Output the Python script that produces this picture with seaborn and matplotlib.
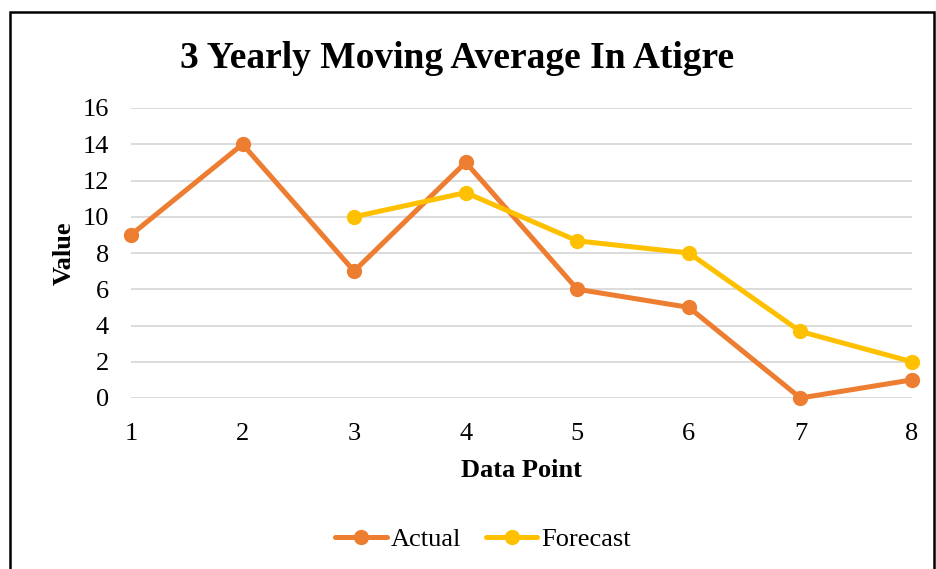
import matplotlib
matplotlib.use("Agg")
import matplotlib.pyplot as plt
import seaborn as sns
import pandas as pd
import numpy as np
from matplotlib.patches import Rectangle

data_points = [1, 2, 3, 4, 5, 6, 7, 8]
actual = [9, 14, 7, 13, 6, 5, 0, 1]
forecast = [np.nan, np.nan, 10, 11.33, 8.67, 8, 3.67, 2]
yticks = [0, 2, 4, 6, 8, 10, 12, 14, 16]

df = pd.DataFrame({"Data Point": data_points, "Actual": actual, "Forecast": forecast})

sns.set_theme(style="white")
plt.rcParams['font.family'] = ['Liberation Serif', 'DejaVu Serif']

fig = plt.figure(figsize=(9.36, 5.69), dpi=100)
ax = fig.add_axes([131/936, 1-398/569, (912-131)/936, (398-108)/569])

sns.lineplot(data=df, x="Data Point", y="Actual", ax=ax, color="#ED7D31", lw=3.6,
             marker="o", markersize=11, markeredgewidth=0, label="Actual", clip_on=False)
sns.lineplot(data=df.dropna(), x="Data Point", y="Forecast", ax=ax, color="#FFC000", lw=3.6,
             marker="o", markersize=11, markeredgewidth=0, label="Forecast", clip_on=False)

ax.set_xlim(1, 8)
ax.set_ylim(0, 16)
ax.set_yticks(yticks)
ax.set_xticks(data_points)
ax.yaxis.grid(True, color="#D9D9D9", lw=1.3)
ax.set_axisbelow(True)
for s in ax.spines.values():
    s.set_visible(False)
ax.tick_params(axis='both', length=0, labelsize=19, colors="black")
ax.tick_params(axis='y', pad=16)
ax.tick_params(axis='x', pad=18)
ax.set_xlabel("Data Point", fontsize=19, fontweight="bold", color="black", labelpad=10)
ax.set_ylabel("Value", fontsize=19, fontweight="bold", color="black", labelpad=5)

fig.text(457/936, 1-58/569, "3 Yearly Moving Average In Atigre", ha="center", va="center",
         fontsize=27, fontweight="bold", color="black")

leg = ax.legend(loc="center", bbox_to_anchor=(483/936, 1-539/569), bbox_transform=fig.transFigure,
                ncol=2, frameon=False, fontsize=19, handlelength=1.95, columnspacing=0.95,
                handletextpad=0.15)
for t in leg.get_texts():
    t.set_color("black")

fig.patches.append(Rectangle((10/936, -0.1), (934-10)/936, 1.1 - 12/569, transform=fig.transFigure,
                             fill=False, edgecolor="black", lw=1.8, figure=fig))

fig.savefig("out.png", dpi=100)
